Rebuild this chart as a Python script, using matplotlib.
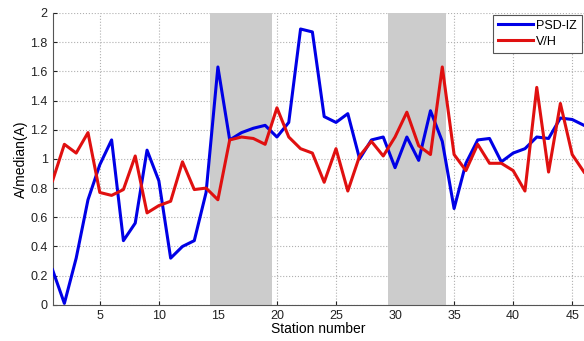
import matplotlib
matplotlib.use('Agg')

import matplotlib.pyplot as plt
import numpy as np

plt.rcParams['font.family'] = ['Liberation Sans', 'DejaVu Sans']

# station numbers and the two curves
stations = np.arange(1, 47)
psd_iz = [0.24, 0.01, 0.32, 0.72, 0.96, 1.13, 0.44, 0.56, 1.06, 0.85,
          0.32, 0.40, 0.44, 0.77, 1.63, 1.13, 1.18, 1.21, 1.23, 1.15,
          1.25, 1.89, 1.87, 1.29, 1.25, 1.31, 1.00, 1.13, 1.15, 0.94,
          1.15, 0.99, 1.33, 1.12, 0.66, 0.97, 1.13, 1.14, 0.98, 1.04,
          1.07, 1.15, 1.14, 1.28, 1.27, 1.23]
v_h = [0.85, 1.10, 1.04, 1.18, 0.77, 0.75, 0.79, 1.02, 0.63, 0.68,
       0.71, 0.98, 0.79, 0.80, 0.72, 1.13, 1.15, 1.14, 1.10, 1.35,
       1.15, 1.07, 1.04, 0.84, 1.07, 0.78, 1.02, 1.12, 1.02, 1.15,
       1.32, 1.09, 1.03, 1.63, 1.03, 0.92, 1.10, 0.97, 0.97, 0.92,
       0.78, 1.49, 0.91, 1.38, 1.03, 0.91]

# shaded station ranges
spans = [(14.3, 19.6), (29.4, 34.3)]

fig = plt.figure(figsize=(5.84, 3.41), dpi=100)
ax = fig.add_axes([0.09, 0.106, 0.91, 0.856])

for a, b in spans:
    ax.axvspan(a, b, color='#cccccc', lw=0, zorder=1)

ax.plot(stations, psd_iz, color='#0000e6', lw=2.2, label='PSD-IZ', zorder=3)
ax.plot(stations, v_h, color='#e01010', lw=2.2, label='V/H', zorder=3)

ax.set_xlim(1, 46)
ax.set_ylim(0, 2)
ax.set_xticks(np.arange(5, 46, 5))
yt = np.arange(0, 2.01, 0.2)
ax.set_yticks(yt)
ax.set_yticklabels(['%g' % round(v, 1) for v in yt])
ax.tick_params(direction='in', labelsize=9, length=3, colors='#222222')
ax.grid(True, linestyle=':', color='#b0b0b0', lw=0.8, zorder=0)
ax.set_axisbelow(True)
ax.spines['top'].set_visible(False)
ax.spines['right'].set_visible(False)
ax.spines['left'].set_color('#555555')
ax.spines['bottom'].set_color('#555555')

ax.set_xlabel('Station number', fontsize=10, labelpad=0)
ax.set_ylabel('A/median(A)', fontsize=10, labelpad=2)

leg = ax.legend(loc='upper right', fontsize=9, fancybox=False, handlelength=2.8,
                borderaxespad=0.15, framealpha=1, edgecolor='#555555',
                borderpad=0.4, labelspacing=0.3, handletextpad=0.25)
leg.get_frame().set_linewidth(0.8)

fig.savefig('out.png', dpi=100)
